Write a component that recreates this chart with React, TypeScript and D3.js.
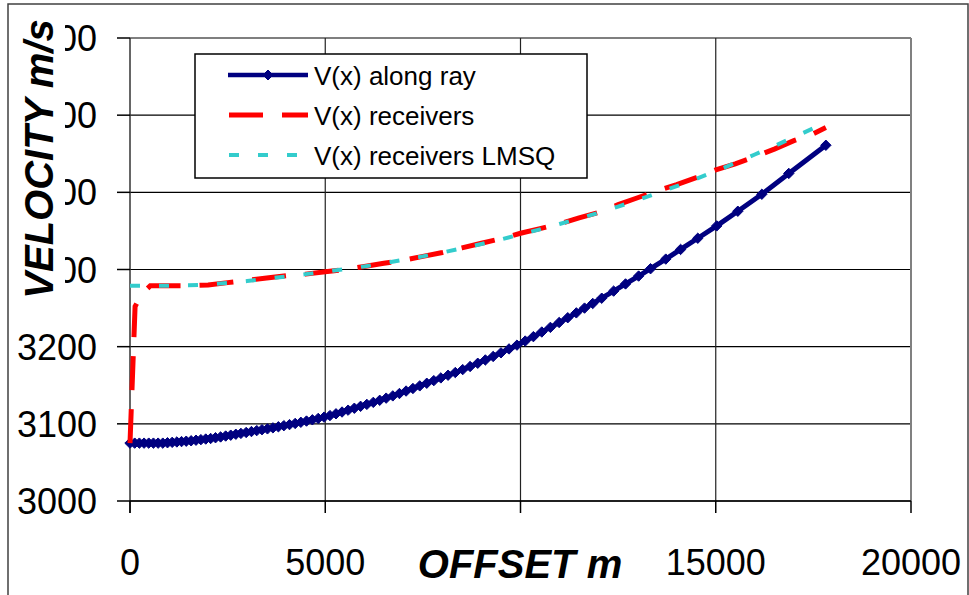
import React from "react";
import * as d3 from "d3";

// ---------- data ----------
const xTicks = [0, 5000, 10000, 15000, 20000];
const yTicks = [3000, 3100, 3200, 3300, 3400, 3500, 3600];

const rayX = [
  0, 120, 240, 360, 480, 600, 720, 840, 960, 1080, 1200, 1320, 1440, 1565, 1690, 1815, 1940, 2065, 2190,
  2320, 2450, 2580, 2710, 2840, 2975, 3110, 3245, 3380, 3520, 3660, 3800, 3940, 4085, 4230, 4375, 4520,
  4670, 4820, 4970, 5120, 5275, 5430, 5585, 5745, 5905, 6065, 6230, 6395, 6560, 6730, 6900, 7070, 7245,
  7420, 7600, 7780, 7960, 8145, 8330, 8520, 8710, 8905, 9100, 9300, 9500, 9705, 9910, 10120, 10330, 10545,
  10765, 10990, 11210, 11430, 11640, 11850, 12080, 12385, 12690, 13025, 13330, 13720, 14100, 14540, 15025,
  15565, 16180, 16870, 17820,
];
const rayV = [
  3075, 3075, 3075, 3075, 3075, 3075, 3075, 3075, 3075.5, 3076, 3076.5, 3077, 3077.5, 3078, 3078.8, 3079.5,
  3080.3, 3081, 3082, 3083, 3084.2, 3085.3, 3086.5, 3087.6, 3088.8, 3090, 3091.2, 3092.4, 3093.5, 3094.8,
  3096.2, 3097.6, 3099, 3100.5, 3102, 3103.6, 3105.2, 3107, 3108.7, 3110.7, 3113, 3115.3, 3117.7, 3120.2,
  3122.7, 3125.2, 3127.8, 3130.5, 3133.3, 3136.2, 3139.3, 3142.5, 3145.8, 3149.2, 3152.6, 3156, 3159.5,
  3163, 3166.5, 3170.3, 3174.3, 3178.5, 3182.8, 3187.3, 3192, 3197, 3202, 3207.3, 3213, 3219, 3225, 3231.3,
  3237.5, 3243.8, 3250, 3256, 3262.8, 3272, 3281.3, 3291.5, 3301, 3313.5, 3326, 3340.5, 3356.5, 3375.5,
  3397.5, 3424.5, 3461,
];

const recX = [
  0, 130, 300, 520, 1000, 1500, 2000, 2500, 3000, 3500, 4000, 4500, 5000, 5500, 6000, 6500, 7000, 7500,
  8000, 8500, 9000, 9500, 10000, 10500, 11000, 11500, 12000, 12500, 13000, 13500, 14000, 14500, 15000,
  15500, 16000, 16500, 17000, 17500, 17820,
];
const recV = [
  3075, 3252, 3268, 3279, 3279, 3279, 3280, 3283, 3286, 3289, 3292, 3294, 3297, 3300, 3304, 3308, 3312,
  3317, 3322, 3328, 3334, 3340, 3347, 3353, 3359, 3367, 3374, 3384, 3393, 3402, 3410, 3419, 3429, 3437,
  3446, 3456, 3467, 3476, 3484,
];

const lmsqX = [
  0, 500, 1000, 1500, 2000, 2500, 3000, 3500, 4000, 4500, 5000, 5500, 6000, 6500, 7000, 7500, 8000, 8500,
  9000, 9500, 10000, 10500, 11000, 11500, 12000, 12500, 13000, 13500, 14000, 14500, 15000, 15500, 16000,
  16500, 17000, 17500, 17700,
];
const lmsqV = [
  3279, 3279, 3279, 3279.5, 3280.5, 3282.5, 3285, 3288, 3291, 3294, 3297, 3300.5, 3304, 3308, 3312.5,
  3317, 3322, 3327.5, 3333, 3339, 3345.5, 3352, 3359, 3366, 3373.5, 3381.5, 3390, 3399, 3408, 3417.5,
  3427.5, 3438, 3449, 3460, 3471.5, 3483, 3488,
];

const seriesNames = ["V(x) along ray", "V(x) receivers", "V(x) receivers LMSQ"];

// ---------- layout ----------
const W = 969;
const H = 595;
const FONT = "'Liberation Sans', Arial, Helvetica, sans-serif";
const NAVY = "#000080";
const RED = "#FF0000";
const CYAN = "#33CCCC";

export default function App() {
  const x = d3.scaleLinear().domain([0, 20000]).range([130, 911]);
  const y = d3.scaleLinear().domain([3000, 3600]).range([501, 38]);

  const line = d3
    .line<[number, number]>()
    .x((d) => x(d[0]))
    .y((d) => y(d[1]));

  const ray: [number, number][] = rayX.map((v, i) => [v, rayV[i]]);
  const rec: [number, number][] = recX.map((v, i) => [v, recV[i]]);
  const lmsq: [number, number][] = lmsqX.map((v, i) => [v, lmsqV[i]]);

  const diamond = (cx: number, cy: number, r: number) =>
    `M${cx},${cy - r}L${cx + r},${cy}L${cx},${cy + r}L${cx - r},${cy}Z`;

  const [x0, x1] = x.range();
  const [yb, yt] = y.range();

  const legendRows = [75, 115, 155];
  // the 10000 label sits under the x-axis title box in the reference (hidden)
  const hiddenXLabels = [10000];

  return (
    <svg
      width={W}
      height={H}
      style={{ position: "absolute", left: 0, top: 0, background: "#fff" }}
      fontFamily={FONT}
    >
      <rect x={0} y={0} width={W} height={H} fill="#fff" />
      {/* outer frame */}
      <path d={`M8,${H}V4H968V${H}`} fill="none" stroke="#404040" strokeWidth={1.5} />

      {/* grid */}
      {yTicks.map((t) => (
        <line key={"gy" + t} x1={x0} x2={x1} y1={y(t)} y2={y(t)} stroke="#000" strokeWidth={1.2} />
      ))}
      {xTicks.slice(1, -1).map((t) => (
        <line key={"gx" + t} x1={x(t)} x2={x(t)} y1={yt} y2={yb} stroke="#222" strokeWidth={1.2} />
      ))}
      {/* plot right border */}
      <line x1={x1} x2={x1} y1={yt} y2={yb} stroke="#808080" strokeWidth={2} />

      {/* axes */}
      <line x1={x0} x2={x0} y1={yt} y2={yb + 12} stroke="#333" strokeWidth={1.5} />
      <line x1={x0} x2={x1} y1={yb} y2={yb} stroke="#000" strokeWidth={1.5} />
      {yTicks.map((t) => (
        <line key={"ty" + t} x1={x0 - 13} x2={x0} y1={y(t)} y2={y(t)} stroke="#000" strokeWidth={1.5} />
      ))}
      {xTicks.map((t) => (
        <line key={"tx" + t} x1={x(t)} x2={x(t)} y1={yb} y2={yb + 12} stroke="#000" strokeWidth={1.5} />
      ))}

      {/* tick labels */}
      {yTicks.map((t) => (
        <text key={"ly" + t} x={97} y={y(t) + 13} fontSize={36} textAnchor="end" fill="#000">
          {t}
        </text>
      ))}
      {xTicks
        .filter((t) => !hiddenXLabels.includes(t))
        .map((t) => (
          <text key={"lx" + t} x={x(t)} y={575} fontSize={36} textAnchor="middle" fill="#000">
            {t}
          </text>
        ))}

      {/* series */}
      <path d={line(ray) || ""} fill="none" stroke={NAVY} strokeWidth={5} strokeLinejoin="round" />
      {ray.map((d, i) => (
        <path key={"m" + i} d={diamond(x(d[0]), y(d[1]), 5.2)} fill={NAVY} stroke={NAVY} strokeWidth={1} />
      ))}
      <path d={line(rec) || ""} fill="none" stroke={RED} strokeWidth={5} strokeDasharray="34,19" />
      <path d={line(lmsq) || ""} fill="none" stroke={CYAN} strokeWidth={4} strokeDasharray="10,19" />

      {/* legend */}
      <rect x={195} y={54} width={392} height={124} fill="#fff" stroke="#000" strokeWidth={1.5} />
      <line x1={228} x2={308} y1={legendRows[0]} y2={legendRows[0]} stroke={NAVY} strokeWidth={4.5} />
      <path d={diamond(268, legendRows[0], 5)} fill={NAVY} stroke={NAVY} />
      <line x1={229} x2={308} y1={legendRows[1]} y2={legendRows[1]} stroke={RED} strokeWidth={5} strokeDasharray="34,19" />
      <line x1={229} x2={308} y1={legendRows[2]} y2={legendRows[2]} stroke={CYAN} strokeWidth={4} strokeDasharray="10,19" />
      {seriesNames.map((n, i) => (
        <text key={n} x={314} y={legendRows[i] + 10} fontSize={26} fill="#000">
          {n}
        </text>
      ))}

      {/* axis titles with white boxes */}
      <rect x={12} y={14} width={53} height={290} fill="#fff" />
      <text
        transform="translate(53,159) rotate(-90)"
        textAnchor="middle"
        fontSize={40}
        fontWeight="bold"
        fontStyle="italic"
        fill="#000"
      >
        VELOCITY m/s
      </text>
      <rect x={412} y={540} width={216} height={50} fill="#fff" />
      <text x={520} y={578} textAnchor="middle" fontSize={40} fontWeight="bold" fontStyle="italic" fill="#000">
        OFFSET m
      </text>
    </svg>
  );
}
